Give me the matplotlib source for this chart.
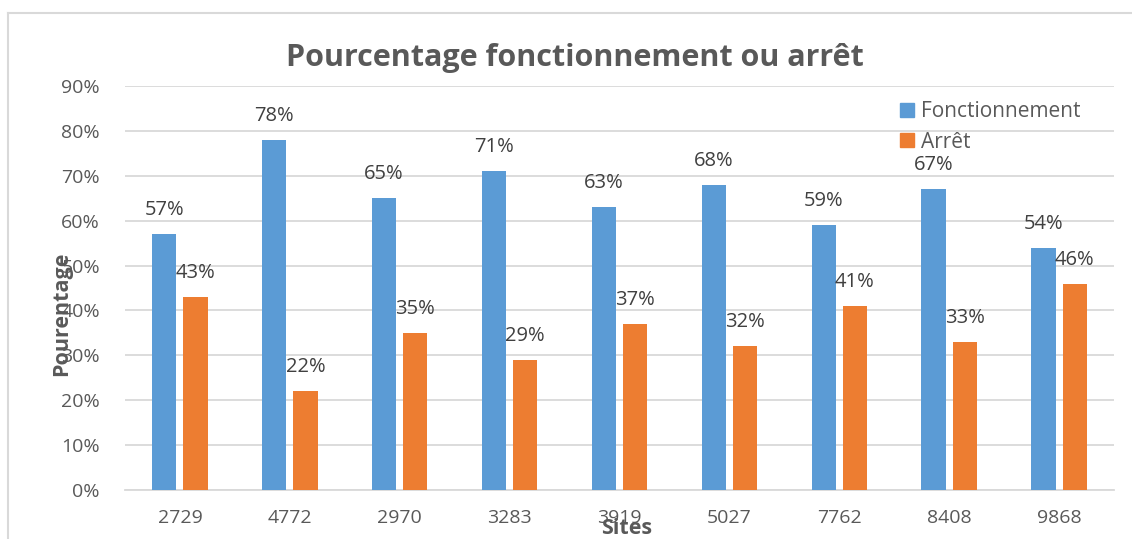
import matplotlib.pyplot as plt
import numpy as np
from matplotlib.lines import Line2D

plt.rcParams['font.family'] = ['Open Sans', 'DejaVu Sans']

sites = ["2729", "4772", "2970", "3283", "3919", "5027", "7762", "8408", "9868"]
fonctionnement = [57, 78, 65, 71, 63, 68, 59, 67, 54]
arret = [43, 22, 35, 29, 37, 32, 41, 33, 46]

BLUE = "#5B9BD5"
ORANGE = "#ED7D31"
GRAY = "#595959"
GRID = "#D9D9D9"

fig = plt.figure(figsize=(11.32, 5.39), dpi=100)
ax = fig.add_axes([125/1132, 1-490/539, 989/1132, 404/539])

x = np.arange(len(sites))
w = 0.22
off = 0.142
ax.bar(x - off, fonctionnement, w, color=BLUE, zorder=3)
ax.bar(x + off, arret, w, color=ORANGE, zorder=3)

for i in range(len(sites)):
    ax.annotate("%d%%" % fonctionnement[i], (x[i] - off, fonctionnement[i]), xytext=(0, 10),
                textcoords="offset points", ha="center", va="bottom", fontsize=14.5, color="#404040")
    ax.annotate("%d%%" % arret[i], (x[i] + off, arret[i]), xytext=(0, 10),
                textcoords="offset points", ha="center", va="bottom", fontsize=14.5, color="#404040")

ax.set_xlim(-0.5, len(sites) - 0.5)
ax.set_ylim(0, 90)
ax.set_yticks(range(0, 91, 10))
ax.set_yticklabels(["%d%%" % v for v in range(0, 91, 10)])
ax.set_xticks(x)
ax.set_xticklabels(sites)
ax.tick_params(length=0, labelsize=14, labelcolor=GRAY)
ax.tick_params(axis="y", pad=18)
ax.tick_params(axis="x", pad=14)
ax.yaxis.grid(True, color=GRID, linewidth=1.3, zorder=0)
for s in ["top", "right", "left"]:
    ax.spines[s].set_visible(False)
ax.spines["bottom"].set_color(GRID)
ax.spines["bottom"].set_linewidth(1.3)

fig.text(575/1132, 1-58/539, "Pourcentage fonctionnement ou arrêt", ha="center", va="center",
         fontsize=22, fontweight="bold", color=GRAY)
fig.text(62/1132, 1-314/539, "Pourentage", rotation=90, ha="center", va="center",
         fontsize=15.5, fontweight="bold", color=GRAY)
fig.text(627/1132, 1-528/539, "Sites", ha="center", va="center",
         fontsize=15.5, fontweight="bold", color=GRAY)

handles = [Line2D([], [], marker="s", linestyle="", color=BLUE, markersize=10),
           Line2D([], [], marker="s", linestyle="", color=ORANGE, markersize=10)]
fig.legend(handles, ["Fonctionnement", "Arrêt"], loc="upper left",
           bbox_to_anchor=(886/1132, 1-91/539), frameon=False, fontsize=15,
           labelcolor=GRAY, handletextpad=0.2, handlelength=1.0, labelspacing=0.45,
           borderpad=0)

# frame lines around the chart area
fig.add_artist(Line2D([8/1132, 1], [1-13/539, 1-13/539], color="#D9D9D9", linewidth=1.5))
fig.add_artist(Line2D([8/1132, 8/1132], [0, 1-13/539], color="#D9D9D9", linewidth=1.5))

fig.savefig("out.png", dpi=100)
